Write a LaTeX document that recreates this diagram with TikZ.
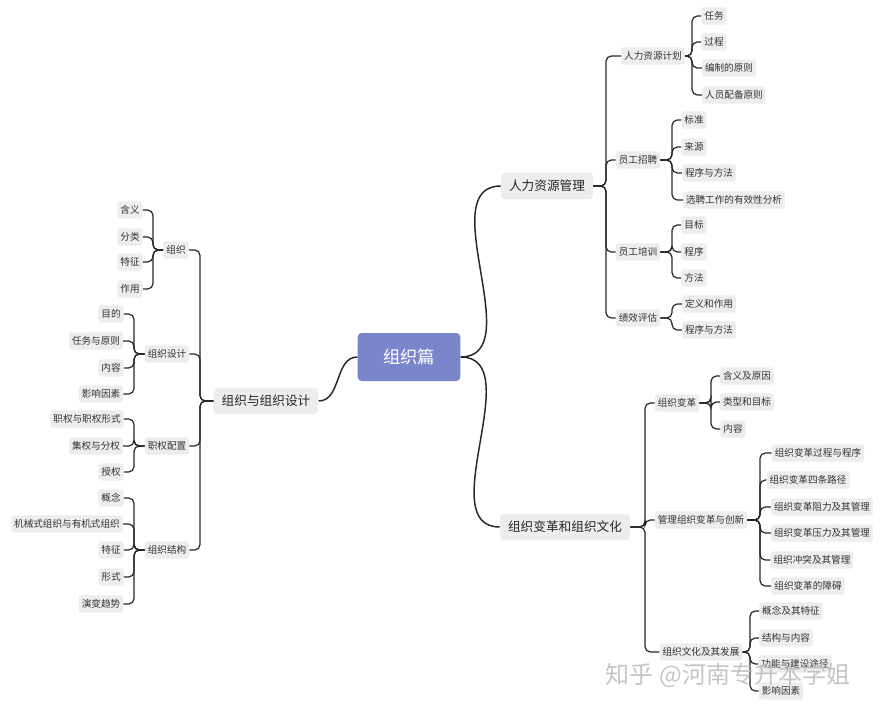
\documentclass[tikz,border=0pt]{standalone}
\usepackage{fontspec}
\setmainfont{Noto Sans CJK SC}
\begin{document}
\begin{tikzpicture}[x=0.75pt,y=-0.75pt,
  leaf/.style={fill=black!7,rounded corners=2pt,inner sep=2.2pt,minimum height=13pt,font=\fontsize{7.2pt}{8pt}\selectfont,text=black!80},
  mid/.style={leaf},
  main/.style={fill=black!7,rounded corners=3pt,inner xsep=6pt,minimum height=20pt,font=\fontsize{9.5pt}{11pt}\selectfont,text=black!85},
  ln/.style={draw=black!85,line width=0.9pt,rounded corners=4pt},
  cv/.style={draw=black!85,line width=1.1pt}]
\useasboundingbox (0,0) rectangle (886,710);
\node[fill={rgb,255:red,122;green,134;blue,204},rounded corners=3pt,minimum width=77pt,minimum height=36pt,text=white,font=\fontsize{13pt}{15pt}\selectfont] (root) at (409,357) {组织篇};
\node[main] (hr) at (547,186) {人力资源管理};
\node[main] (ch) at (565,527) {组织变革和组织文化};
\node[main] (od) at (266,401) {组织与组织设计};
\draw[cv] (root.east) to[out=0,in=180] (hr.west);
\draw[cv] (root.east) to[out=0,in=180] (ch.west);
\draw[cv] (root.west) to[out=180,in=0] (od.east);
\coordinate (tA) at (606,0); \coordinate (tB) at (692,0); \coordinate (tC) at (672,0);
\coordinate (tD) at (645,0); \coordinate (tE) at (711,0); \coordinate (tF) at (760,0); \coordinate (tG) at (750,0);
\coordinate (tH) at (200,0); \coordinate (tI) at (153,0); \coordinate (tJ) at (134,0);
% HR
\node[mid] (p1) at (653,56) {人力资源计划};
\node[mid] (p2) at (638,160) {员工招聘};
\node[mid] (p3) at (638,252) {员工培训};
\node[mid] (p4) at (638,318) {绩效评估};
\foreach \c in {p1,p2,p3,p4} \draw[ln] (hr.east) -- (hr.east -| tA) |- (\c.west);
\node[leaf] (a1) at (714,16) {任务};
\node[leaf] (a2) at (714,42) {过程};
\node[leaf] (a3) at (729,68) {编制的原则};
\node[leaf] (a4) at (734,95) {人员配备原则};
\foreach \c in {a1,a2,a3,a4} \draw[ln] (p1.east) -- (p1.east -| tB) |- (\c.west);
\node[leaf] (b1) at (694,120) {标准};
\node[leaf] (b2) at (694,147) {来源};
\node[leaf] (b3) at (709,173) {程序与方法};
\node[leaf] (b4) at (734,200) {选聘工作的有效性分析};
\foreach \c in {b1,b2,b3,b4} \draw[ln] (p2.east) -- (p2.east -| tC) |- (\c.west);
\node[leaf] (c1) at (694,225) {目标};
\node[leaf] (c2) at (694,252) {程序};
\node[leaf] (c3) at (694,278) {方法};
\foreach \c in {c1,c2,c3} \draw[ln] (p3.east) -- (p3.east -| tC) |- (\c.west);
\node[leaf] (d1) at (709,304) {定义和作用};
\node[leaf] (d2) at (709,330) {程序与方法};
\foreach \c in {d1,d2} \draw[ln] (p4.east) -- (p4.east -| tC) |- (\c.west);
% Change
\node[mid] (q1) at (677,403) {组织变革};
\node[mid] (q2) at (701,520) {管理组织变革与创新};
\node[mid] (q3) at (701,652) {组织文化及其发展};
\foreach \c in {q1,q2,q3} \draw[ln] (ch.east) -- (ch.east -| tD) |- (\c.west);
\node[leaf] (e1) at (747,376) {含义及原因};
\node[leaf] (e2) at (747,402) {类型和目标};
\node[leaf] (e3) at (733,429) {内容};
\foreach \c in {e1,e2,e3} \draw[ln] (q1.east) -- (q1.east -| tE) |- (\c.west);
\node[leaf] (f1) at (818,453) {组织变革过程与程序};
\node[leaf] (f2) at (808,480) {组织变革四条路径};
\node[leaf] (f3) at (822,507) {组织变革阻力及其管理};
\node[leaf] (f4) at (822,533) {组织变革压力及其管理};
\node[leaf] (f5) at (812,560) {组织冲突及其管理};
\node[leaf] (f6) at (808,586) {组织变革的障碍};
\foreach \c in {f1,f2,f3,f4,f5,f6} \draw[ln] (q2.east) -- (q2.east -| tF) |- (\c.west);
\node[leaf] (g1) at (791,611) {概念及其特征};
\node[leaf] (g2) at (786,638) {结构与内容};
\node[leaf] (g3) at (795,664) {功能与建设途径};
\node[leaf] (g4) at (781,691) {影响因素};
\foreach \c in {g1,g2,g3,g4} \draw[ln] (q3.east) -- (q3.east -| tG) |- (\c.west);
% Left
\node[mid] (r1) at (176,250) {组织};
\node[mid] (r2) at (167,354) {组织设计};
\node[mid] (r3) at (167,446) {职权配置};
\node[mid] (r4) at (167,550) {组织结构};
\foreach \c in {r1,r2,r3,r4} \draw[ln] (od.west) -- (od.west -| tH) |- (\c.east);
\node[leaf] (h1) at (130,210) {含义};
\node[leaf] (h2) at (130,237) {分类};
\node[leaf] (h3) at (130,262) {特征};
\node[leaf] (h4) at (130,289) {作用};
\foreach \c in {h1,h2,h3,h4} \draw[ln] (r1.west) -- (r1.west -| tI) |- (\c.east);
\node[leaf] (i1) at (111,314) {目的};
\node[leaf] (i2) at (96,341) {任务与原则};
\node[leaf] (i3) at (111,368) {内容};
\node[leaf] (i4) at (101,394) {影响因素};
\foreach \c in {i1,i2,i3,i4} \draw[ln] (r2.west) -- (r2.west -| tJ) |- (\c.east);
\node[leaf] (j1) at (87,419) {职权与职权形式};
\node[leaf] (j2) at (96,446) {集权与分权};
\node[leaf] (j3) at (111,472) {授权};
\foreach \c in {j1,j2,j3} \draw[ln] (r3.west) -- (r3.west -| tJ) |- (\c.east);
\node[leaf] (k1) at (111,498) {概念};
\node[leaf] (k2) at (67,524) {机械式组织与有机式组织};
\node[leaf] (k3) at (111,550) {特征};
\node[leaf] (k4) at (111,577) {形式};
\node[leaf] (k5) at (101,604) {演变趋势};
\foreach \c in {k1,k2,k3,k4,k5} \draw[ln] (r4.west) -- (r4.west -| tJ) |- (\c.east);
\node[text=black!25,font=\fontsize{18pt}{20pt}\selectfont,opacity=0.9] (wm) at (728,675) {知乎 @河南专升本学姐};
\end{tikzpicture}
\end{document}
